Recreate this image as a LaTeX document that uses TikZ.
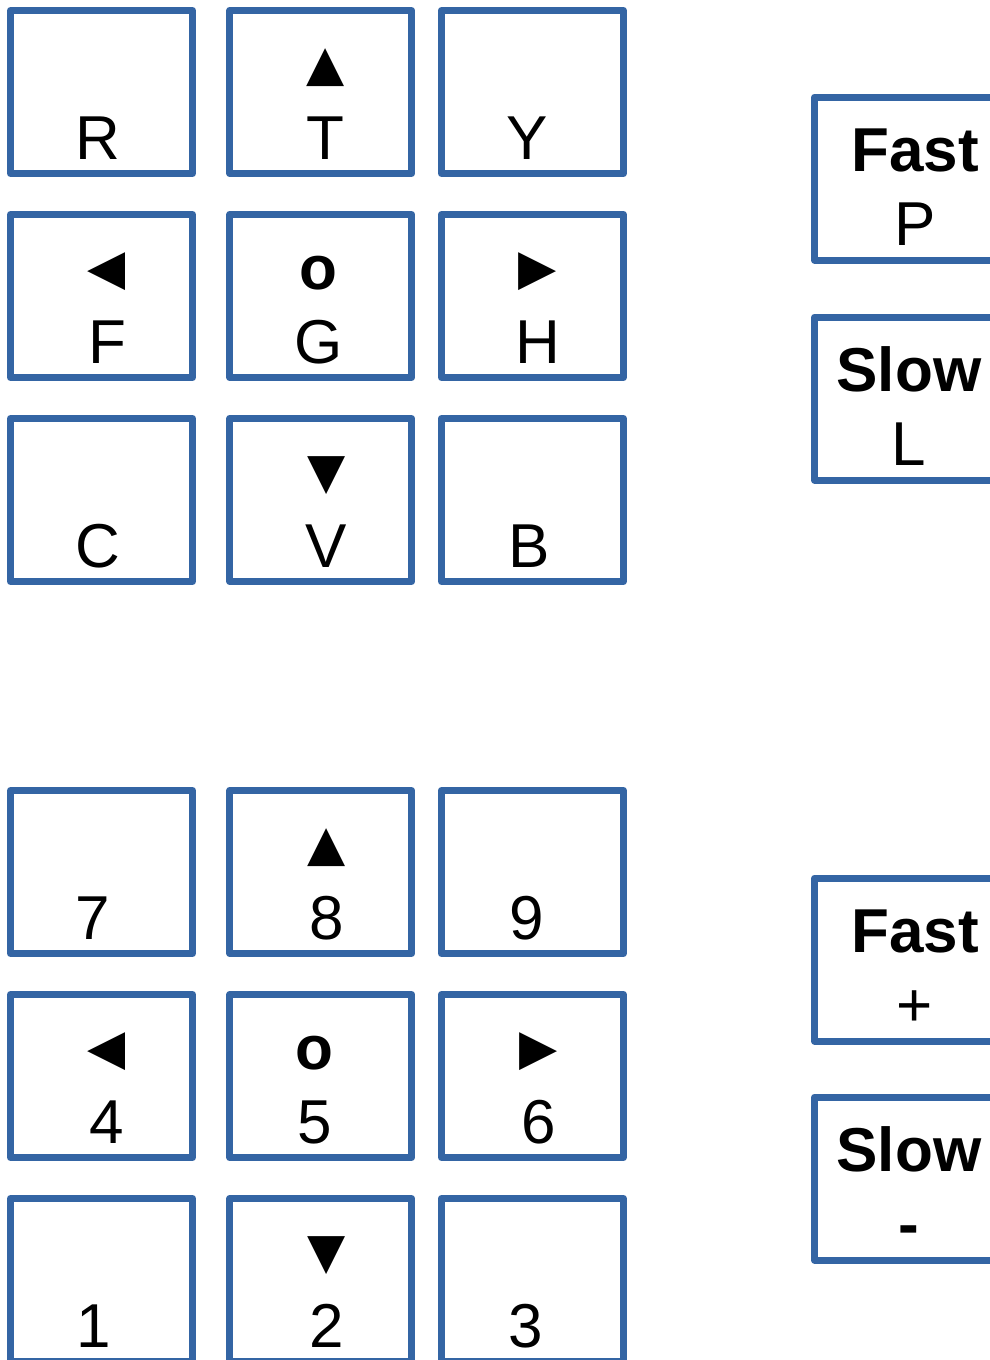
\documentclass[tikz,border=0pt]{standalone}
\usepackage{fontspec}
\setmainfont{Liberation Sans}
\newfontfamily\symfont[Scale=0.8]{DejaVu Sans}
\usetikzlibrary{positioning, calc}

\definecolor{keyblue}{HTML}{3465A4}
\newcommand{\keysym}[1]{\raisebox{5pt}{\symfont #1}}

\begin{document}
\begin{tikzpicture}[
                x=1pt, y=-1pt,
                key/.style={rectangle, draw=keyblue, line width=7pt, line join=round, outer sep=0pt, inner sep=0pt, minimum width=182pt, minimum height=163pt},
                keytext/.style={anchor=base, align=center, inner sep=0pt, font=\fontsize{62pt}{74pt}\selectfont}
            ]
            \useasboundingbox (0,0) rectangle (990,1360);

            % Letter keys
            \node[key] (keyR) at (101.5,92) {};
            \node[key, right=37.2pt of keyR] (keyT) {};
            \node[key, right=29.7pt of keyT] (keyY) {};
            \node[key, below=41pt of keyR] (keyF) {};
            \node[key, below=41pt of keyT] (keyG) {};
            \node[key, below=41pt of keyY] (keyH) {};
            \node[key, below=41pt of keyF] (keyC) {};
            \node[key, below=41pt of keyG] (keyV) {};
            \node[key, below=41pt of keyH] (keyB) {};

            % Number keys
            \node[key, below=209pt of keyC] (key7) {};
            \node[key, below=209pt of keyV] (key8) {};
            \node[key, below=209pt of keyB] (key9) {};
            \node[key, below=41pt of key7] (key4) {};
            \node[key, below=41pt of key8] (key5) {};
            \node[key, below=41pt of key9] (key6) {};
            \node[key, below=41pt of key4] (key1) {};
            \node[key, below=41pt of key5] (key2) {};
            \node[key, below=41pt of key6] (key3) {};

            % Speed keys
            \node[key] (fastP) at (905.5,178.5) {};
            \node[key, below=57pt of fastP] (slowL) {};
            \node[key] (fastPlus) at (905.5,959.5) {};
            \node[key, below=56pt of fastPlus] (slowMinus) {};

            % Labels (base = last line)
            \node[keytext] (labR) at ($(keyR.north)+(-3.5,148.5)$) {R};
            \node[keytext] (labT) at ($(keyT.north)+(5,148.5)$) {\keysym{▲}\\T};
            \node[keytext] (labY) at ($(keyY.north)+(-5.7,148.5)$) {Y};
            \node[keytext] (labF) at ($(keyF.north)+(5.5,148.5)$) {\keysym{◀}\\F};
            \node[keytext] (labG) at ($(keyG.north)+(-2,148.5)$) {\textbf{o}\\G};
            \node[keytext] (labH) at ($(keyH.north)+(5,148.5)$) {\keysym{▶}\\H};
            \node[keytext] (labC) at ($(keyC.north)+(-3.5,148.5)$) {C};
            \node[keytext] (labV) at ($(keyV.north)+(5.5,148.5)$) {\keysym{▼}\\V};
            \node[keytext] (labB) at ($(keyB.north)+(-3.7,148.5)$) {B};

            \node[keytext] (lab7) at ($(key7.north)+(-8.5,148.5)$) {7};
            \node[keytext] (lab8) at ($(key8.north)+(6,148.5)$) {\keysym{▲}\\8};
            \node[keytext] (lab9) at ($(key9.north)+(-5.7,148.5)$) {9};
            \node[keytext] (lab4) at ($(key4.north)+(5,148.5)$) {\keysym{◀}\\4};
            \node[keytext] (lab5) at ($(key5.north)+(-6,148.5)$) {\textbf{o}\\5};
            \node[keytext] (lab6) at ($(key6.north)+(6,148.5)$) {\keysym{▶}\\6};
            \node[keytext] (lab1) at ($(key1.north)+(-8,148.5)$) {1};
            \node[keytext] (lab2) at ($(key2.north)+(6,148.5)$) {\keysym{▼}\\2};
            \node[keytext] (lab3) at ($(key3.north)+(-6.7,148.5)$) {3};

            \node[keytext] (labP) at ($(fastP.north)+(9.5,148.5)$) {\textbf{Fast}\\P};
            \node[keytext] (labL) at ($(slowL.north)+(3.5,148.5)$) {\textbf{Slow}\\L};
            \node[keytext] (labPlus) at ($(fastPlus.north)+(9.5,148.5)$) {\textbf{Fast}\\+};
            \node[keytext] (labMinus) at ($(slowMinus.north)+(3.5,148.5)$) {\textbf{Slow}\\\textbf{-}};

        \end{tikzpicture}
\end{document}
